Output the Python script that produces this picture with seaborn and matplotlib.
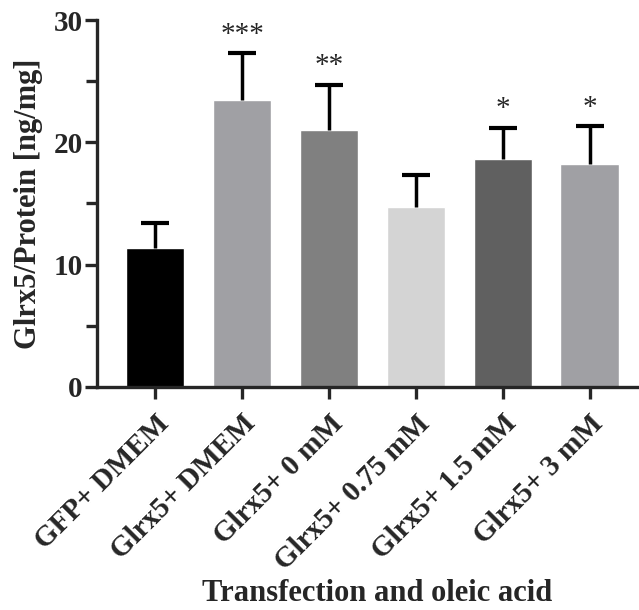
import matplotlib
matplotlib.use("Agg")
import matplotlib.pyplot as plt
import seaborn as sns
import pandas as pd
import numpy as np
from matplotlib.ticker import MultipleLocator

# values
groups = ["GFP+ DMEM", "Glrx5+ DMEM", "Glrx5+ 0 mM",
          "Glrx5+ 0.75 mM", "Glrx5+ 1.5 mM", "Glrx5+ 3 mM"]
means = [11.37, 23.45, 21.05, 14.7, 18.65, 18.2]
upper_err = [2.05, 3.85, 3.65, 2.6, 2.55, 3.1]
stars = ["", "***", "**", "", "*", "*"]
colors = ["#000000", "#A0A0A4", "#808080", "#D4D4D4", "#606060", "#A0A0A4"]

sns.set_style("ticks")
plt.rcParams['font.family'] = ['Liberation Serif', 'DejaVu Serif']
plt.rcParams['font.weight'] = 'bold'

df = pd.DataFrame({"group": groups, "value": means})

fig = plt.figure(figsize=(6.39, 6.10), dpi=100)
ax = fig.add_axes([0.152, 0.366, 0.848, 0.601])

sns.barplot(data=df, x="group", y="value", hue="group", palette=colors,
            legend=False, width=0.67, saturation=1, ax=ax, errorbar=None)

# upper-only error bars (Prism style)
x = np.arange(len(groups))
eb = ax.errorbar(x, means, yerr=[np.zeros(len(means)), upper_err], fmt="none",
                 ecolor="black", elinewidth=2.5, capsize=10, capthick=3,
                 zorder=3)
eb[1][0].set_visible(False)

for xi, m, e, s in zip(x, means, upper_err, stars):
    if s:
        ax.text(xi, m + e + 0.45, s, ha="center", va="bottom",
                fontsize=21, fontweight="normal")

ax.set_ylim(0, 30)
ax.set_xlim(-0.67, 5.57)
ax.yaxis.set_major_locator(MultipleLocator(10))
ax.yaxis.set_minor_locator(MultipleLocator(5))
ax.tick_params(axis="both", which="major", width=2.4, length=8.5,
               labelsize=21, direction="out", pad=2)
ax.tick_params(axis="y", which="minor", width=2.4, length=8, direction="out")
for lab in ax.get_yticklabels():
    lab.set_fontweight("bold")
ax.set_xticks(x)
ax.set_xticklabels(groups, rotation=45, ha="right", rotation_mode="anchor",
                   fontsize=21, fontweight="bold")
ax.tick_params(axis="x", pad=8)

sns.despine(ax=ax)
ax.spines["left"].set_linewidth(2.4)
ax.spines["bottom"].set_linewidth(2.4)

ax.set_ylabel("Glrx5/Protein [ng/mg]", fontsize=22, fontweight="bold")
ax.yaxis.set_label_coords(-0.10, 0.5)
ax.set_xlabel("Transfection and oleic acid", fontsize=22, fontweight="bold")
ax.xaxis.set_label_coords((377.5 - 97) / 542, -0.525)

fig.savefig("out.png", dpi=100)
